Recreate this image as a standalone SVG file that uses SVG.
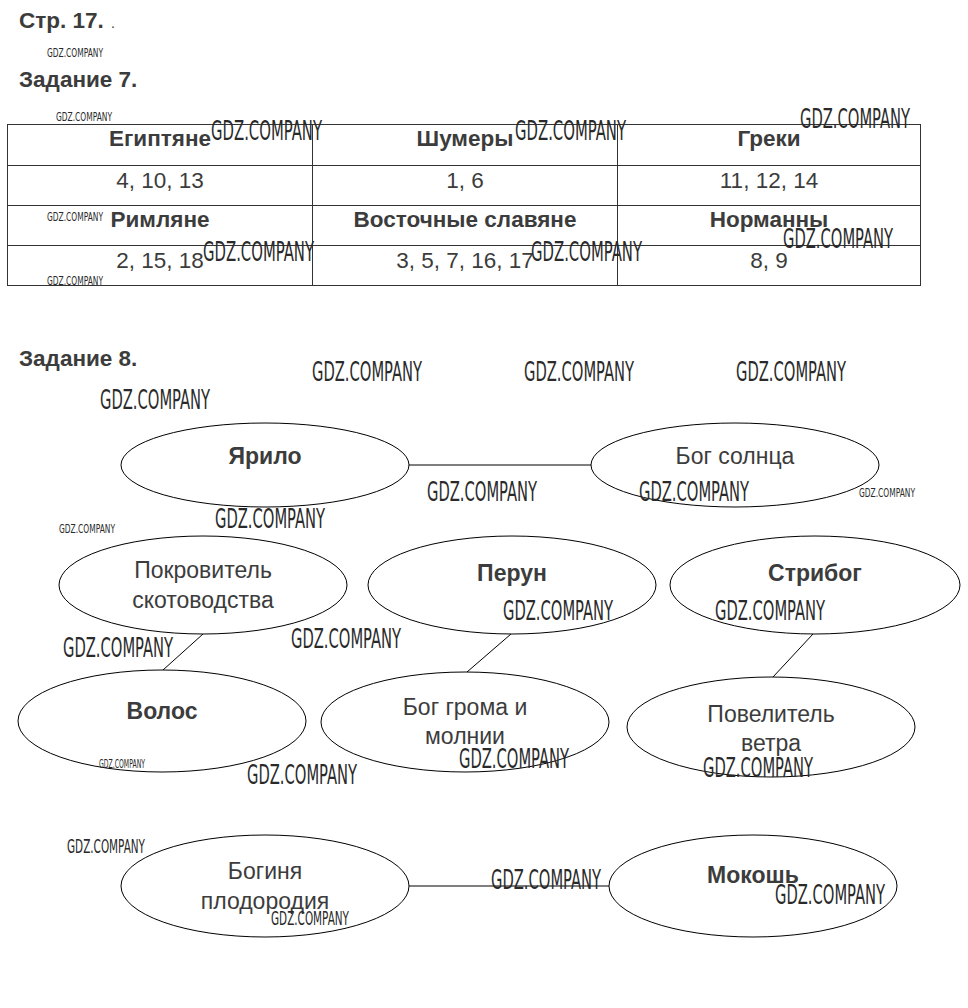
<svg xmlns="http://www.w3.org/2000/svg" width="968" height="1008" viewBox="0 0 968 1008">
<style>
.t{font-family:"Liberation Sans",Arial,sans-serif;fill:#3c3c3c;}
.h{font-size:22.5px;font-weight:bold;}
.tb{font-size:22.5px;font-weight:bold;text-anchor:middle;}
.tv{font-size:22.5px;text-anchor:middle;}
.lb{font-size:23px;font-weight:bold;text-anchor:middle;}
.lv{font-size:23px;text-anchor:middle;}
.w{font-family:"Liberation Sans Narrow","DejaVu Sans Condensed",sans-serif;fill:#2a2a2a;}
.wl{font-size:27px;}
.wm{font-size:19px;}
.ws{font-size:13px;}
.e{fill:#fff;stroke:#000;stroke-width:1;}
.ln{stroke:#000;stroke-width:1;fill:none;}
.tl{stroke:#333;stroke-width:1;fill:none;}
</style>
<rect width="968" height="1008" fill="#fff"/>
<text class="t h" x="19" y="28">Стр. 17.</text>
<text class="t" x="111" y="28" font-size="14" fill="#999">.</text>
<text class="t h" x="19" y="87">Задание 7.</text>

<g id="table">
<rect class="tl" x="7.5" y="124.5" width="913" height="161"/>
<line class="tl" x1="7" y1="165.5" x2="921" y2="165.5"/>
<line class="tl" x1="7" y1="205.5" x2="921" y2="205.5"/>
<line class="tl" x1="7" y1="245.5" x2="921" y2="245.5"/>
<line class="tl" x1="312.5" y1="124" x2="312.5" y2="286"/>
<line class="tl" x1="617.5" y1="124" x2="617.5" y2="286"/>
<text class="t tb" x="160" y="146">Египтяне</text>
<text class="t tb" x="465" y="146">Шумеры</text>
<text class="t tb" x="769" y="146">Греки</text>
<text class="t tv" x="160" y="188">4, 10, 13</text>
<text class="t tv" x="465" y="188">1, 6</text>
<text class="t tv" x="769" y="188">11, 12, 14</text>
<text class="t tb" x="160" y="227">Римляне</text>
<text class="t tb" x="465" y="227">Восточные славяне</text>
<text class="t tb" x="769" y="227">Норманны</text>
<text class="t tv" x="160" y="268">2, 15, 18</text>
<text class="t tv" x="465" y="268">3, 5, 7, 16, 17</text>
<text class="t tv" x="769" y="268">8, 9</text>
</g>

<text class="t h" x="19" y="366">Задание 8.</text>

<g id="connectors">
<line class="ln" x1="409" y1="465" x2="591" y2="465"/>
<line class="ln" x1="203" y1="634" x2="163" y2="670"/>
<line class="ln" x1="511" y1="634" x2="467" y2="672"/>
<line class="ln" x1="813" y1="634" x2="773" y2="677"/>
<line class="ln" x1="409" y1="886" x2="609" y2="886"/>
</g>

<g id="yarilo"><ellipse class="e" cx="265" cy="465" rx="144" ry="42"/><text class="t lb" x="265" y="464">Ярило</text></g>
<g id="sun"><ellipse class="e" cx="735" cy="465" rx="144" ry="42"/><text class="t lv" x="735" y="464">Бог солнца</text></g>
<g id="cattle"><ellipse class="e" cx="203" cy="585" rx="144" ry="49"/><text class="t lv" x="203" y="578">Покровитель</text><text class="t lv" x="203" y="608">скотоводства</text></g>
<g id="perun"><ellipse class="e" cx="512" cy="585" rx="144" ry="49"/><text class="t lb" x="512" y="581">Перун</text></g>
<g id="stribog"><ellipse class="e" cx="815" cy="585" rx="145" ry="49"/><text class="t lb" x="815" y="581">Стрибог</text></g>
<g id="volos"><ellipse class="e" cx="162" cy="721" rx="144" ry="51"/><text class="t lb" x="162" y="719">Волос</text></g>
<g id="thunder"><ellipse class="e" cx="465" cy="722" rx="144" ry="50"/><text class="t lv" x="465" y="715">Бог грома и</text><text class="t lv" x="465" y="744">молнии</text></g>
<g id="wind"><ellipse class="e" cx="771" cy="727" rx="144" ry="50"/><text class="t lv" x="771" y="722">Повелитель</text><text class="t lv" x="771" y="751">ветра</text></g>
<g id="fertility"><ellipse class="e" cx="265" cy="886" rx="144" ry="51"/><text class="t lv" x="265" y="879">Богиня</text><text class="t lv" x="265" y="909">плодородия</text></g>
<g id="mokosh"><ellipse class="e" cx="753" cy="886" rx="144" ry="51"/><text class="t lb" x="753" y="883">Мокошь</text></g>

<g id="watermarks">
<text class="w ws" x="47" y="57" textLength="56" lengthAdjust="spacingAndGlyphs">GDZ.COMPANY</text>
<text class="w ws" x="56" y="121" textLength="56" lengthAdjust="spacingAndGlyphs">GDZ.COMPANY</text>
<text class="w wl" x="211" y="140" textLength="111" lengthAdjust="spacingAndGlyphs">GDZ.COMPANY</text>
<text class="w wl" x="515" y="140" textLength="111" lengthAdjust="spacingAndGlyphs">GDZ.COMPANY</text>
<text class="w wl" x="800" y="128" textLength="110" lengthAdjust="spacingAndGlyphs">GDZ.COMPANY</text>
<text class="w ws" x="47" y="221" textLength="56" lengthAdjust="spacingAndGlyphs">GDZ.COMPANY</text>
<text class="w wl" x="203" y="261" textLength="111" lengthAdjust="spacingAndGlyphs">GDZ.COMPANY</text>
<text class="w wl" x="531" y="261" textLength="111" lengthAdjust="spacingAndGlyphs">GDZ.COMPANY</text>
<text class="w wl" x="783" y="248" textLength="110" lengthAdjust="spacingAndGlyphs">GDZ.COMPANY</text>
<text class="w ws" x="47" y="285" textLength="56" lengthAdjust="spacingAndGlyphs">GDZ.COMPANY</text>
<text class="w wl" x="312" y="381" textLength="110" lengthAdjust="spacingAndGlyphs">GDZ.COMPANY</text>
<text class="w wl" x="524" y="381" textLength="110" lengthAdjust="spacingAndGlyphs">GDZ.COMPANY</text>
<text class="w wl" x="736" y="381" textLength="110" lengthAdjust="spacingAndGlyphs">GDZ.COMPANY</text>
<text class="w wl" x="100" y="409" textLength="110" lengthAdjust="spacingAndGlyphs">GDZ.COMPANY</text>
<text class="w wl" x="427" y="501" textLength="110" lengthAdjust="spacingAndGlyphs">GDZ.COMPANY</text>
<text class="w wl" x="639" y="501" textLength="110" lengthAdjust="spacingAndGlyphs">GDZ.COMPANY</text>
<text class="w ws" x="859" y="497" textLength="56" lengthAdjust="spacingAndGlyphs">GDZ.COMPANY</text>
<text class="w wl" x="215" y="528" textLength="110" lengthAdjust="spacingAndGlyphs">GDZ.COMPANY</text>
<text class="w ws" x="59" y="533" textLength="56" lengthAdjust="spacingAndGlyphs">GDZ.COMPANY</text>
<text class="w wl" x="503" y="620" textLength="110" lengthAdjust="spacingAndGlyphs">GDZ.COMPANY</text>
<text class="w wl" x="715" y="620" textLength="110" lengthAdjust="spacingAndGlyphs">GDZ.COMPANY</text>
<text class="w wl" x="291" y="648" textLength="110" lengthAdjust="spacingAndGlyphs">GDZ.COMPANY</text>
<text class="w wl" x="63" y="657" textLength="110" lengthAdjust="spacingAndGlyphs">GDZ.COMPANY</text>
<text class="w ws" x="99" y="768" textLength="46" lengthAdjust="spacingAndGlyphs" font-size="11">GDZ.COMPANY</text>
<text class="w wl" x="247" y="784" textLength="110" lengthAdjust="spacingAndGlyphs">GDZ.COMPANY</text>
<text class="w wl" x="459" y="768" textLength="110" lengthAdjust="spacingAndGlyphs">GDZ.COMPANY</text>
<text class="w wl" x="703" y="777" textLength="110" lengthAdjust="spacingAndGlyphs">GDZ.COMPANY</text>
<text class="w wm" x="67" y="853" textLength="78" lengthAdjust="spacingAndGlyphs">GDZ.COMPANY</text>
<text class="w wm" x="271" y="925" textLength="78" lengthAdjust="spacingAndGlyphs">GDZ.COMPANY</text>
<text class="w wl" x="491" y="889" textLength="110" lengthAdjust="spacingAndGlyphs">GDZ.COMPANY</text>
<text class="w wl" x="775" y="904" textLength="110" lengthAdjust="spacingAndGlyphs">GDZ.COMPANY</text>
</g>
</svg>
